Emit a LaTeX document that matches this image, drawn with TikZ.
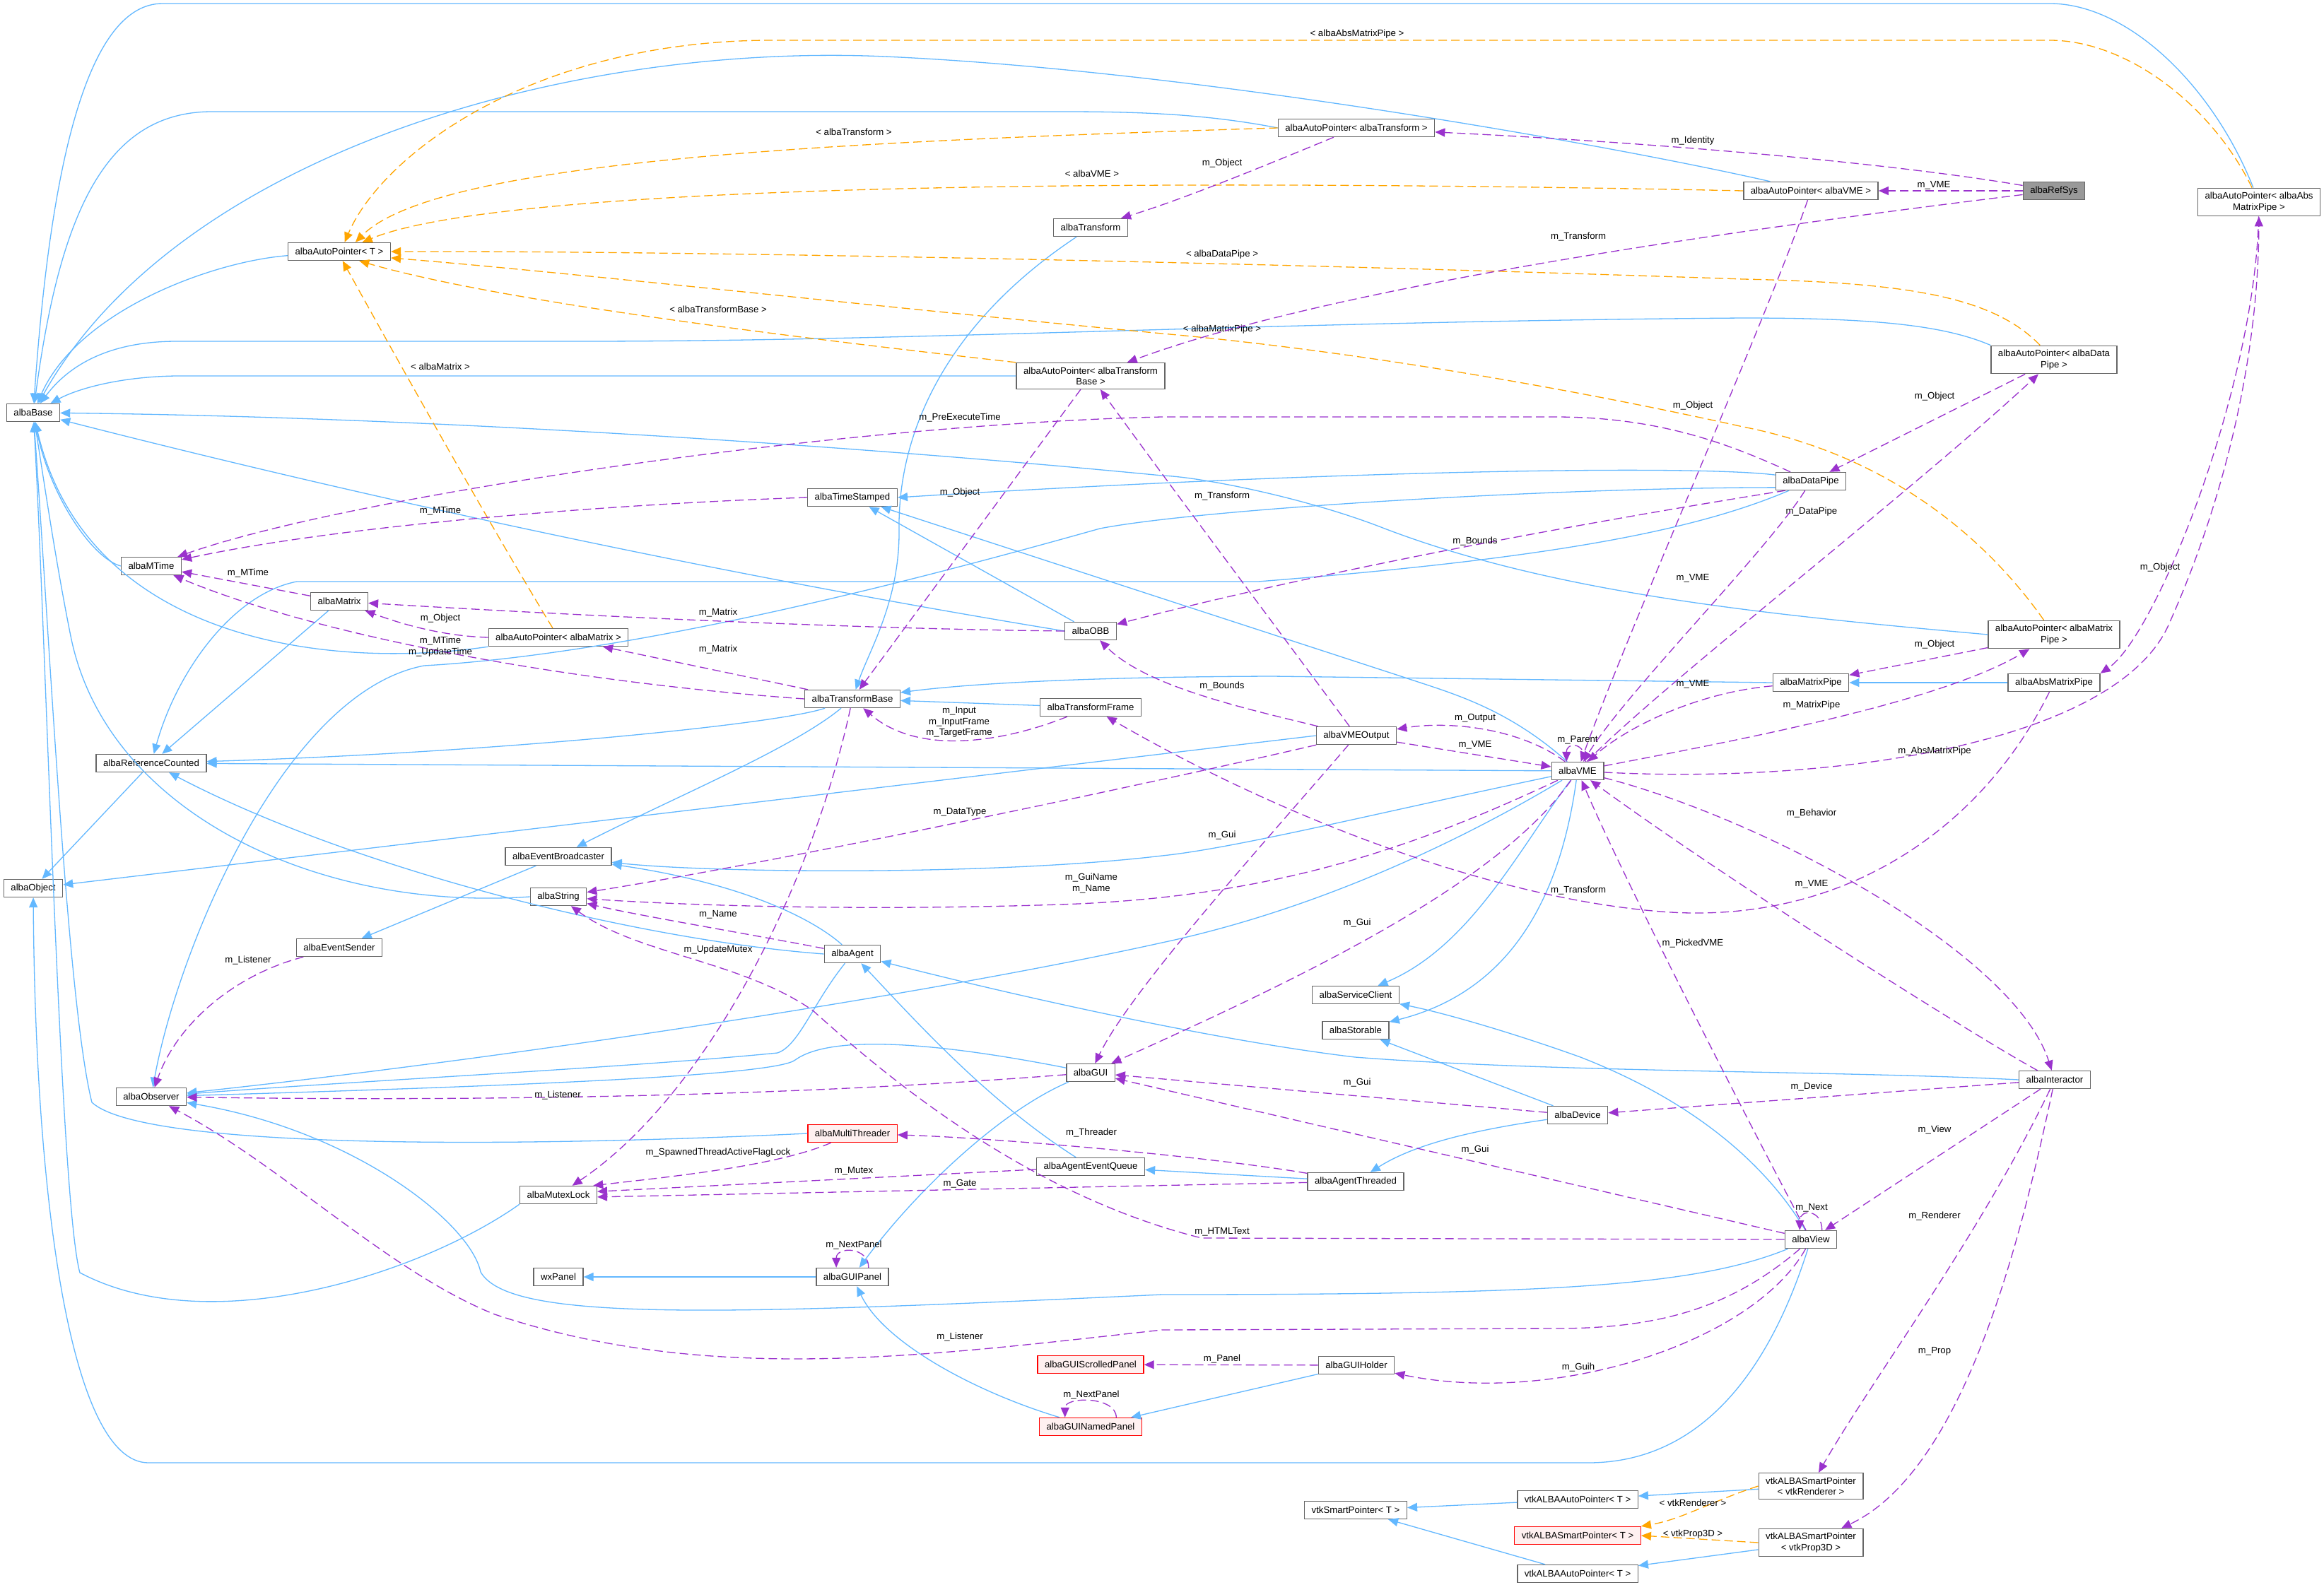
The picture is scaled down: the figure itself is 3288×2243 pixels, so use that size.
\documentclass[tikz,border=0pt]{standalone}
\usepackage{fontspec}
\setmainfont{Liberation Sans}
\usetikzlibrary{arrows.meta}

\definecolor{inhblue}{HTML}{63B8FF}
\definecolor{usepurple}{HTML}{9A32CD}
\definecolor{tplorange}{HTML}{FFA500}
\definecolor{badfill}{HTML}{FFF0F0}

\begin{document}
\begin{tikzpicture}[x=0.5pt,y=-0.5pt,
    cls/.style={draw=black!60, fill=white, line width=0.7pt, inner xsep=5pt, inner ysep=3pt,
      minimum height=12.5pt, align=center, font=\fontsize{6.6}{7.6}\selectfont},
    focus/.style={cls, fill=black!40},
    bad/.style={cls, draw=red, fill=badfill},
    lbl/.style={inner sep=0pt, align=center, font=\fontsize{6.6}{7.6}\selectfont},
    inhline/.style={draw=inhblue, line width=0.65pt, -{Triangle[length=7pt,width=6pt]}},
    useline/.style={draw=usepurple, line width=0.65pt, dash pattern=on 6pt off 3pt, -{Triangle[length=7pt,width=6pt]}},
    tplline/.style={draw=tplorange, line width=0.65pt, dash pattern=on 6pt off 3pt, -{Triangle[length=7pt,width=6pt]}}]
  \path[fill=white] (0,0) rectangle (3288,2243);
  \useasboundingbox (0,0) rectangle (3288,2243);

  % classes, column by column
  \node[cls] (base) at (47,584) {albaBase};
  \node[cls] (object) at (47,1257) {albaObject};
  \node[cls] (mtime) at (214,801) {albaMTime};
  \node[cls] (refcnt) at (214,1080) {albaReferenceCounted};
  \node[cls] (observer) at (214,1552) {albaObserver};
  \node[cls] (apT) at (480,356) {albaAutoPointer< T >};
  \node[cls] (matrix) at (480,851) {albaMatrix};
  \node[cls] (evsender) at (480,1341) {albaEventSender};
  \node[cls] (apMatrix) at (790,902) {albaAutoPointer< albaMatrix >};
  \node[cls] (evbroad) at (790,1212) {albaEventBroadcaster};
  \node[cls] (string) at (790,1269) {albaString};
  \node[cls] (mutex) at (790,1691) {albaMutexLock};
  \node[cls] (wxpanel) at (790,1807) {wxPanel};
  \node[cls] (stamped) at (1206,704) {albaTimeStamped};
  \node[cls] (tbase) at (1206,989) {albaTransformBase};
  \node[cls] (agent) at (1206,1350) {albaAgent};
  \node[bad] (threader) at (1206,1604) {albaMultiThreader};
  \node[cls] (guipanel) at (1206,1807) {albaGUIPanel};
  \node[cls] (transform) at (1543,322) {albaTransform};
  \node[cls] (apTBase) at (1543,532) {albaAutoPointer< albaTransform\\Base >};
  \node[cls] (obb) at (1543,893) {albaOBB};
  \node[cls] (tframe) at (1543,1001) {albaTransformFrame};
  \node[cls] (gui) at (1543,1518) {albaGUI};
  \node[cls] (evqueue) at (1543,1651) {albaAgentEventQueue};
  \node[bad] (scrolled) at (1543,1931) {albaGUIScrolledPanel};
  \node[bad] (named) at (1543,2019) {albaGUINamedPanel};
  \node[cls] (apTransform) at (1919,181) {albaAutoPointer< albaTransform >};
  \node[cls] (vmeout) at (1919,1041) {albaVMEOutput};
  \node[cls] (service) at (1918,1408) {albaServiceClient};
  \node[cls] (storable) at (1918,1458) {albaStorable};
  \node[cls] (agthreaded) at (1918,1672) {albaAgentThreaded};
  \node[cls] (guiholder) at (1919,1932) {albaGUIHolder};
  \node[cls] (vtksmart) at (1918,2137) {vtkSmartPointer< T >};
  \node[cls] (vme) at (2232,1091) {albaVME};
  \node[cls] (device) at (2232,1578) {albaDevice};
  \node[cls] (vtkautoA) at (2232,2122) {vtkALBAAutoPointer< T >};
  \node[bad] (vtkalba) at (2232,2173) {vtkALBASmartPointer< T >};
  \node[cls] (vtkautoB) at (2232,2227) {vtkALBAAutoPointer< T >};
  \node[cls] (apVME) at (2562,270) {albaAutoPointer< albaVME >};
  \node[cls] (datapipe) at (2562,681) {albaDataPipe};
  \node[cls] (matrixpipe) at (2562,966) {albaMatrixPipe};
  \node[cls] (view) at (2562,1754) {albaView};
  \node[cls] (vtkRen) at (2562,2103) {vtkALBASmartPointer\\< vtkRenderer >};
  \node[cls] (vtkProp) at (2562,2183) {vtkALBASmartPointer\\< vtkProp3D >};
  \node[focus] (refsys) at (2906,270) {albaRefSys};
  \node[cls] (apDataPipe) at (2906,509) {albaAutoPointer< albaData\\Pipe >};
  \node[cls] (apMatrixPipe) at (2906,898) {albaAutoPointer< albaMatrix\\Pipe >};
  \node[cls] (absmp) at (2906,966) {albaAbsMatrixPipe};
  \node[cls] (interactor) at (2907,1528) {albaInteractor};
  \node[cls] (apAbsMP) at (3196,286) {albaAutoPointer< albaAbs\\MatrixPipe >};

  % inheritance
  \draw[inhline] (apT) .. controls (300,370) and (110,440) .. (base);
  \draw[inhline] (apAbsMP) .. controls (3130,120) and (3010,5) .. (2900,5) -- (230,5) .. controls (120,5) and (70,250) .. (base);
  \draw[inhline] (apVME) .. controls (2300,210) and (1700,100) .. (1252,80) .. controls (800,60) and (250,220) .. (base);
  \draw[inhline] (apTransform.west) .. controls (1700,160) and (1600,158) .. (1500,158) -- (300,158) .. controls (150,158) and (85,300) .. (base);
  \draw[inhline] (apDataPipe.north west) .. controls (2750,460) and (2650,450) .. (2466,450) .. controls (1800,455) and (1300,483) .. (822,483) -- (250,483) .. controls (150,483) and (95,520) .. (base);
  \draw[inhline] (apTBase.west) -- (250,532) .. controls (170,533) and (110,550) .. (base);
  \draw[inhline] (apMatrixPipe.west) .. controls (2500,870) and (2200,840) .. (1959,748) .. controls (1850,705) and (1700,675) .. (1644,673) .. controls (1200,630) and (600,590) .. (base);
  \draw[inhline] (obb.west) .. controls (1000,810) and (500,700) .. (base);
  \draw[inhline] (mtime.west) .. controls (130,790) and (70,700) .. (base);
  \draw[inhline] (apMatrix.south west) .. controls (450,950) and (120,900) .. (base);
  \draw[inhline] (string.west) .. controls (450,1290) and (150,1150) .. (100,900) .. controls (80,800) and (65,700) .. (base);
  \draw[inhline] (threader.west) .. controls (700,1625) and (200,1625) .. (130,1560) .. controls (95,1420) and (70,900) .. (base);
  \draw[inhline] (mutex.south west) .. controls (600,1800) and (300,1900) .. (113,1801) .. controls (85,1700) and (65,900) .. (base);
  \draw[inhline] (view) .. controls (2500,1950) and (2400,2070) .. (2247,2070) -- (210,2070) .. controls (100,2070) and (50,1700) .. (object);
  \draw[inhline] (refcnt) -- (object);
  \draw[inhline] (matrix) -- (refcnt);
  \draw[inhline] (datapipe) .. controls (2400,750) and (2200,790) .. (1780,823) -- (420,823) .. controls (330,840) and (250,950) .. (refcnt);
  \draw[inhline] (tbase) .. controls (1100,1025) and (700,1065) .. (refcnt);
  \draw[inhline] (vme) -- (refcnt);
  \draw[inhline] (agent.west) .. controls (900,1330) and (500,1230) .. (refcnt);
  \draw[inhline] (vmeout.west) -- (object);
  \draw[inhline] (evbroad) -- (evsender);
  \draw[inhline] (datapipe.170) .. controls (2400,658) and (1900,665) .. (stamped.east);
  \draw[inhline] (datapipe.190) .. controls (2200,690) and (1700,720) .. (1556,748) .. controls (1300,820) and (900,925) .. (600,942) .. controls (400,980) and (250,1350) .. (observer);
  \draw[inhline] (obb) -- (stamped);
  \draw[inhline] (vme) .. controls (2130,1000) and (2050,980) .. (1985,958) -- (stamped);
  \draw[inhline] (transform) .. controls (1350,450) and (1270,600) .. (1272,750) .. controls (1273,850) and (1230,920) .. (tbase);
  \draw[inhline] (tframe) -- (tbase);
  \draw[inhline] (matrixpipe.west) -- (1800,957) .. controls (1500,958) and (1350,970) .. (tbase);
  \draw[inhline] (absmp) -- (matrixpipe);
  \draw[inhline] (vme) .. controls (2150,1200) and (2080,1340) .. (service);
  \draw[inhline] (vme) .. controls (2210,1250) and (2150,1400) .. (storable);
  \draw[inhline] (vme) .. controls (2050,1200) and (1850,1290) .. (1644,1334) .. controls (1300,1410) and (700,1500) .. (observer);
  \draw[inhline] (vme) .. controls (1950,1150) and (1750,1200) .. (1644,1211) .. controls (1400,1240) and (1000,1235) .. (evbroad);
  \draw[inhline] (agent) .. controls (1150,1300) and (1050,1250) .. (evbroad);
  \draw[inhline] (tbase) .. controls (1120,1060) and (950,1130) .. (evbroad);
  \draw[inhline] (agent) .. controls (1150,1420) and (1130,1480) .. (1100,1490) .. controls (900,1510) and (500,1530) .. (observer);
  \draw[inhline] (gui) .. controls (1350,1480) and (1180,1460) .. (1125,1500) .. controls (1100,1520) and (800,1535) .. (observer);
  \draw[inhline] (evqueue) .. controls (1400,1560) and (1300,1450) .. (agent);
  \draw[inhline] (agthreaded) -- (evqueue);
  \draw[inhline] (device) .. controls (2080,1600) and (2000,1620) .. (agthreaded);
  \draw[inhline] (device) -- (storable);
  \draw[inhline] (interactor.west) .. controls (2600,1515) and (2200,1518) .. (1917,1496) .. controls (1700,1470) and (1400,1400) .. (agent);
  \draw[inhline] (view) .. controls (2500,1650) and (2400,1560) .. (2236,1496) .. controls (2150,1465) and (2050,1435) .. (service);
  \draw[inhline] (gui) .. controls (1420,1570) and (1300,1680) .. (guipanel);
  \draw[inhline] (guipanel) -- (wxpanel);
  \draw[inhline] (named) .. controls (1380,1970) and (1250,1900) .. (guipanel);
  \draw[inhline] (guiholder) -- (named);
  \draw[inhline] (view) .. controls (2400,1820) and (2200,1832) .. (1644,1832) .. controls (1000,1862) and (720,1870) .. (680,1800) .. controls (665,1730) and (500,1600) .. (observer);
  \draw[inhline] (vtkautoA) -- (vtksmart);
  \draw[inhline] (vtkautoB) -- (vtksmart);
  \draw[inhline] (vtkRen) -- (vtkautoA);
  \draw[inhline] (vtkProp) -- (vtkautoB);

  % template instances
  \draw[tplline] (apAbsMP) .. controls (3130,150) and (3010,57) .. (2900,57) -- (1084,57) .. controls (750,60) and (540,220) .. (apT.60)
    node[lbl] at (1920,48) {< albaAbsMatrixPipe >};
  \draw[tplline] (apTransform.west) .. controls (1200,200) and (620,225) .. (apT.30)
    node[lbl] at (1208,187) {< albaTransform >};
  \draw[tplline] (apVME.west) .. controls (1500,250) and (700,265) .. (apT.22)
    node[lbl] at (1545,246) {< albaVME >};
  \draw[tplline] (apDataPipe) .. controls (2820,420) and (2700,400) .. (2466,395) .. controls (1800,372) and (1000,355) .. (apT.east)
    node[lbl] at (1729,360) {< albaDataPipe >};
  \draw[tplline] (apMatrixPipe) .. controls (2830,790) and (2700,650) .. (2466,604) .. controls (2200,545) and (1900,495) .. (1644,472) .. controls (1200,430) and (800,385) .. (apT.-7)
    node[lbl] at (1729,466) {< albaMatrixPipe >};
  \draw[tplline] (apTBase.north west) .. controls (1100,475) and (700,425) .. (apT.-25)
    node[lbl] at (1016,438) {< albaTransformBase >};
  \draw[tplline] (apMatrix) .. controls (740,820) and (640,650) .. (apT.-70)
    node[lbl] at (623,519) {< albaMatrix >};
  \draw[tplline] (vtkRen.west) .. controls (2420,2125) and (2380,2150) .. (vtkalba.north east)
    node[lbl] at (2395,2127) {< vtkRenderer >};
  \draw[tplline] (vtkProp.west) -- (vtkalba.east)
    node[lbl] at (2395,2171) {< vtkProp3D >};

  % members
  \draw[useline] (refsys) -- (apVME) node[lbl] at (2736,262) {m\_VME};
  \draw[useline] (refsys) .. controls (2700,235) and (2400,205) .. (apTransform.-3) node[lbl] at (2395,199) {m\_Identity};
  \draw[useline] (refsys) .. controls (2500,320) and (1900,400) .. (apTBase) node[lbl] at (2233,335) {m\_Transform};
  \draw[useline] (apTransform) .. controls (1800,230) and (1680,280) .. (transform) node[lbl] at (1729,231) {m\_Object};
  \draw[useline] (apVME) .. controls (2500,450) and (2300,900) .. (vme) node[lbl] at (2395,574) {m\_Object};
  \draw[useline] (apDataPipe) -- (datapipe) node[lbl] at (2737,561) {m\_Object};
  \draw[useline] (vme) .. controls (2350,970) and (2700,700) .. (apDataPipe) node[lbl] at (2563,724) {m\_DataPipe};
  \draw[useline] (datapipe) .. controls (2450,630) and (2350,590) .. (2200,590) -- (1644,590) .. controls (1200,600) and (500,700) .. (mtime)
    node[lbl] at (1358,591) {m\_PreExecuteTime};
  \draw[useline] (stamped.west) .. controls (900,712) and (500,740) .. (mtime) node[lbl] at (623,723) {m\_MTime};
  \draw[useline] (matrix) -- (mtime) node[lbl] at (351,811) {m\_MTime};
  \draw[useline] (tbase.west) .. controls (800,965) and (450,900) .. (mtime) node[lbl] at (623,915) {m\_MTime\\m\_UpdateTime};
  \draw[useline] (obb.west) .. controls (1200,890) and (800,870) .. (matrix) node[lbl] at (1016,867) {m\_Matrix};
  \draw[useline] (apMatrix.west) .. controls (620,900) and (560,880) .. (matrix) node[lbl] at (623,875) {m\_Object};
  \draw[useline] (tbase) -- (apMatrix) node[lbl] at (1016,919) {m\_Matrix};
  \draw[useline] (datapipe.200) .. controls (2300,730) and (1900,800) .. (obb) node[lbl] at (2087,766) {m\_Bounds};
  \draw[useline] (vmeout) .. controls (1750,1000) and (1620,970) .. (obb) node[lbl] at (1729,971) {m\_Bounds};
  \draw[useline] (vmeout) .. controls (1800,880) and (1650,680) .. (apTBase) node[lbl] at (1729,702) {m\_Transform};
  \draw[useline] (vme) .. controls (2150,1030) and (2050,1020) .. (vmeout) node[lbl] at (2087,1016) {m\_Output};
  \draw[useline] (vmeout) -- (vme) node[lbl] at (2087,1054) {m\_VME};
  \draw[useline] (vme.50) .. controls +(0,-28) and +(0,-28) .. (vme.140) node[lbl] at (2232,1047) {m\_Parent};
  \draw[useline] (vmeout) .. controls (1800,1180) and (1600,1400) .. (gui) node[lbl] at (1729,1182) {m\_Gui};
  \draw[useline] (vmeout) .. controls (1600,1115) and (1100,1220) .. (string) node[lbl] at (1358,1149) {m\_DataType};
  \draw[useline] (absmp) .. controls (2800,1180) and (2600,1310) .. (2350,1290) .. controls (2100,1270) and (1800,1150) .. (tframe)
    node[lbl] at (2233,1260) {m\_Transform};
  \draw[useline] (vme) .. controls (2000,1200) and (1800,1270) .. (1500,1280) .. controls (1200,1290) and (950,1280) .. (string)
    node[lbl] at (1544,1250) {m\_GuiName\\m\_Name};
  \draw[useline] (vme) .. controls (2120,1250) and (1850,1380) .. (gui) node[lbl] at (1920,1306) {m\_Gui};
  \draw[useline] (view) .. controls (2480,1600) and (2300,1250) .. (vme) node[lbl] at (2395,1335) {m\_PickedVME};
  \draw[useline] (interactor) .. controls (2800,1470) and (2450,1250) .. (vme) node[lbl] at (2563,1251) {m\_VME};
  \draw[useline] (vme) .. controls (2500,1160) and (2850,1350) .. (interactor) node[lbl] at (2563,1151) {m\_Behavior};
  \draw[useline] (vme) .. controls (2600,1110) and (3000,1050) .. (3070,880) .. controls (3150,700) and (3195,500) .. (apAbsMP)
    node[lbl] at (2737,1063) {m\_AbsMatrixPipe};
  \draw[useline] (apAbsMP) .. controls (3190,550) and (3050,900) .. (absmp.north east) node[lbl] at (3056,803) {m\_Object};
  \draw[useline] (vme) .. controls (2500,1040) and (2750,990) .. (apMatrixPipe) node[lbl] at (2563,998) {m\_MatrixPipe};
  \draw[useline] (apMatrixPipe) -- (matrixpipe) node[lbl] at (2737,912) {m\_Object};
  \draw[useline] (matrixpipe) .. controls (2400,980) and (2300,1030) .. (vme) node[lbl] at (2395,968) {m\_VME};
  \draw[useline] (datapipe) .. controls (2500,780) and (2300,980) .. (vme) node[lbl] at (2395,818) {m\_VME};
  \draw[useline] (apTBase) -- (tbase) node[lbl] at (1358,697) {m\_Object};
  \draw[useline] (tframe) .. controls (1420,1050) and (1300,1070) .. (tbase) node[lbl] at (1357,1022) {m\_Input\\m\_InputFrame\\m\_TargetFrame};
  \draw[useline] (tbase) .. controls (1150,1250) and (1000,1550) .. (mutex) node[lbl] at (1016,1344) {m\_UpdateMutex};
  \draw[useline] (agent) .. controls (1050,1320) and (900,1295) .. (string) node[lbl] at (1016,1294) {m\_Name};
  \draw[useline] (view.west) -- (1700,1752) .. controls (1450,1690) and (1250,1520) .. (1150,1430) .. controls (1050,1360) and (900,1350) .. (string)
    node[lbl] at (1729,1743) {m\_HTMLText};
  \draw[useline] (gui) .. controls (1200,1545) and (800,1560) .. (observer) node[lbl] at (789,1550) {m\_Listener};
  \draw[useline] (evsender) .. controls (330,1380) and (250,1450) .. (observer) node[lbl] at (351,1359) {m\_Listener};
  \draw[useline] (view) .. controls (2450,1850) and (2350,1880) .. (2200,1880) -- (1644,1882) .. controls (1300,1920) and (1000,1960) .. (700,1860) .. controls (550,1800) and (400,1650) .. (observer)
    node[lbl] at (1358,1892) {m\_Listener};
  \draw[useline] (threader) .. controls (1100,1650) and (950,1665) .. (mutex.15) node[lbl] at (1016,1631) {m\_SpawnedThreadActiveFlagLock};
  \draw[useline] (evqueue) -- (mutex.5) node[lbl] at (1208,1657) {m\_Mutex};
  \draw[useline] (agthreaded) -- (mutex.-3) node[lbl] at (1358,1675) {m\_Gate};
  \draw[useline] (agthreaded) .. controls (1700,1635) and (1400,1610) .. (threader) node[lbl] at (1544,1603) {m\_Threader};
  \draw[useline] (device) -- (gui) node[lbl] at (1920,1532) {m\_Gui};
  \draw[useline] (view) -- (gui) node[lbl] at (2087,1627) {m\_Gui};
  \draw[useline] (interactor) -- (device) node[lbl] at (2563,1538) {m\_Device};
  \draw[useline] (interactor) -- (view) node[lbl] at (2737,1599) {m\_View};
  \draw[useline] (view.40) .. controls +(0,-30) and +(0,-30) .. (view.140) node[lbl] at (2563,1709) {m\_Next};
  \draw[useline] (interactor) .. controls (2800,1750) and (2650,1950) .. (vtkRen) node[lbl] at (2737,1721) {m\_Renderer};
  \draw[useline] (interactor) .. controls (2860,1750) and (2780,2080) .. (vtkProp) node[lbl] at (2737,1912) {m\_Prop};
  \draw[useline] (view) .. controls (2480,1900) and (2200,1990) .. (guiholder) node[lbl] at (2233,1935) {m\_Guih};
  \draw[useline] (guiholder) -- (scrolled) node[lbl] at (1729,1923) {m\_Panel};
  \draw[useline] (named.20) .. controls +(0,-30) and +(0,-30) .. (named.160) node[lbl] at (1544,1974) {m\_NextPanel};
  \draw[useline] (guipanel.30) .. controls +(0,-30) and +(0,-30) .. (guipanel.150) node[lbl] at (1208,1762) {m\_NextPanel};
\end{tikzpicture}
\end{document}
